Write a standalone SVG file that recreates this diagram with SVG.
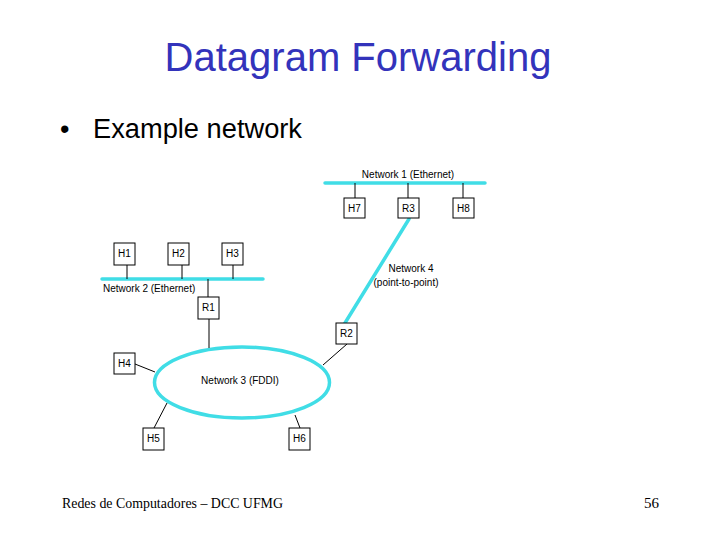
<svg xmlns="http://www.w3.org/2000/svg" width="720" height="540" viewBox="0 0 720 540">
<style>
.net{stroke:#40DDE6;stroke-width:3.5;fill:none;stroke-linecap:round}
.wire{stroke:#000;stroke-width:1;fill:none}
.box{fill:#fff;stroke:#000;stroke-width:1}
.lbl{font-family:"Liberation Sans",Arial,sans-serif;font-size:10px;fill:#000}
.c{text-anchor:middle}
</style>
<rect width="720" height="540" fill="#fff"/>
<text x="358" y="71" text-anchor="middle" font-family="'Liberation Sans',Arial,sans-serif" font-size="40" fill="#3333BB">Datagram Forwarding</text>
<text x="60" y="138" font-family="'Liberation Sans',Arial,sans-serif" font-size="27" fill="#000">•</text>
<text x="93" y="138" font-family="'Liberation Sans',Arial,sans-serif" font-size="27" fill="#000" textLength="209" lengthAdjust="spacingAndGlyphs">Example network</text>
<text x="62" y="508" font-family="'Liberation Serif','Times New Roman',serif" font-size="15" fill="#000" textLength="221" lengthAdjust="spacingAndGlyphs">Redes de Computadores – DCC UFMG</text>
<text x="659" y="508" text-anchor="end" font-family="'Liberation Serif','Times New Roman',serif" font-size="15" fill="#000">56</text>

<g id="connectors">
<line class="net" x1="325" y1="183" x2="485" y2="183"/>
<line class="net" x1="102" y1="279" x2="263" y2="279"/>
<line class="net" x1="409" y1="219" x2="345" y2="323"/>
<ellipse class="net" cx="242" cy="382.5" rx="87.5" ry="35.5"/>
<line class="wire" x1="355" y1="183" x2="355" y2="198"/>
<line class="wire" x1="408" y1="183" x2="408" y2="198"/>
<line class="wire" x1="463" y1="183" x2="463" y2="198"/>
<line class="wire" x1="127" y1="265" x2="127" y2="279"/>
<line class="wire" x1="182" y1="265" x2="182" y2="279"/>
<line class="wire" x1="233" y1="265" x2="233" y2="279"/>
<line class="wire" x1="208" y1="279" x2="208" y2="297"/>
<line class="wire" x1="209" y1="319" x2="209" y2="348"/>
<line class="wire" x1="347" y1="344" x2="323" y2="365"/>
<line class="wire" x1="135" y1="364" x2="155" y2="372"/>
<line class="wire" x1="154" y1="428" x2="167" y2="403"/>
<line class="wire" x1="300" y1="428" x2="295" y2="415"/>
</g>

<g id="net1-label"><text class="lbl c" x="408" y="178">Network 1 (Ethernet)</text></g>
<g id="net2-label"><text class="lbl" x="103" y="292">Network 2 (Ethernet)</text></g>
<g id="net3-label"><text class="lbl c" x="240" y="384">Network 3 (FDDI)</text></g>
<g id="net4-label"><text class="lbl c" x="411" y="272">Network 4</text><text class="lbl c" x="406" y="286">(point-to-point)</text></g>

<g id="H7"><rect class="box" x="344" y="198" width="21" height="20"/><text class="lbl c" x="354.5" y="212">H7</text></g>
<g id="R3"><rect class="box" x="398" y="198" width="21" height="20"/><text class="lbl c" x="408.5" y="212">R3</text></g>
<g id="H8"><rect class="box" x="453" y="198" width="21" height="20"/><text class="lbl c" x="463.5" y="212">H8</text></g>
<g id="H1"><rect class="box" x="114" y="243" width="21" height="22"/><text class="lbl c" x="124.5" y="257">H1</text></g>
<g id="H2"><rect class="box" x="168" y="243" width="21" height="22"/><text class="lbl c" x="178.5" y="257">H2</text></g>
<g id="H3"><rect class="box" x="222" y="243" width="21" height="22"/><text class="lbl c" x="232.5" y="257">H3</text></g>
<g id="R1"><rect class="box" x="198" y="297" width="21" height="22"/><text class="lbl c" x="208.5" y="311">R1</text></g>
<g id="R2"><rect class="box" x="336" y="323" width="21" height="21"/><text class="lbl c" x="346.5" y="337">R2</text></g>
<g id="H4"><rect class="box" x="114" y="353" width="21" height="21"/><text class="lbl c" x="124.5" y="367">H4</text></g>
<g id="H5"><rect class="box" x="143" y="428" width="21" height="22"/><text class="lbl c" x="153.5" y="442">H5</text></g>
<g id="H6"><rect class="box" x="289" y="428" width="21" height="22"/><text class="lbl c" x="299.5" y="442">H6</text></g>
</svg>
